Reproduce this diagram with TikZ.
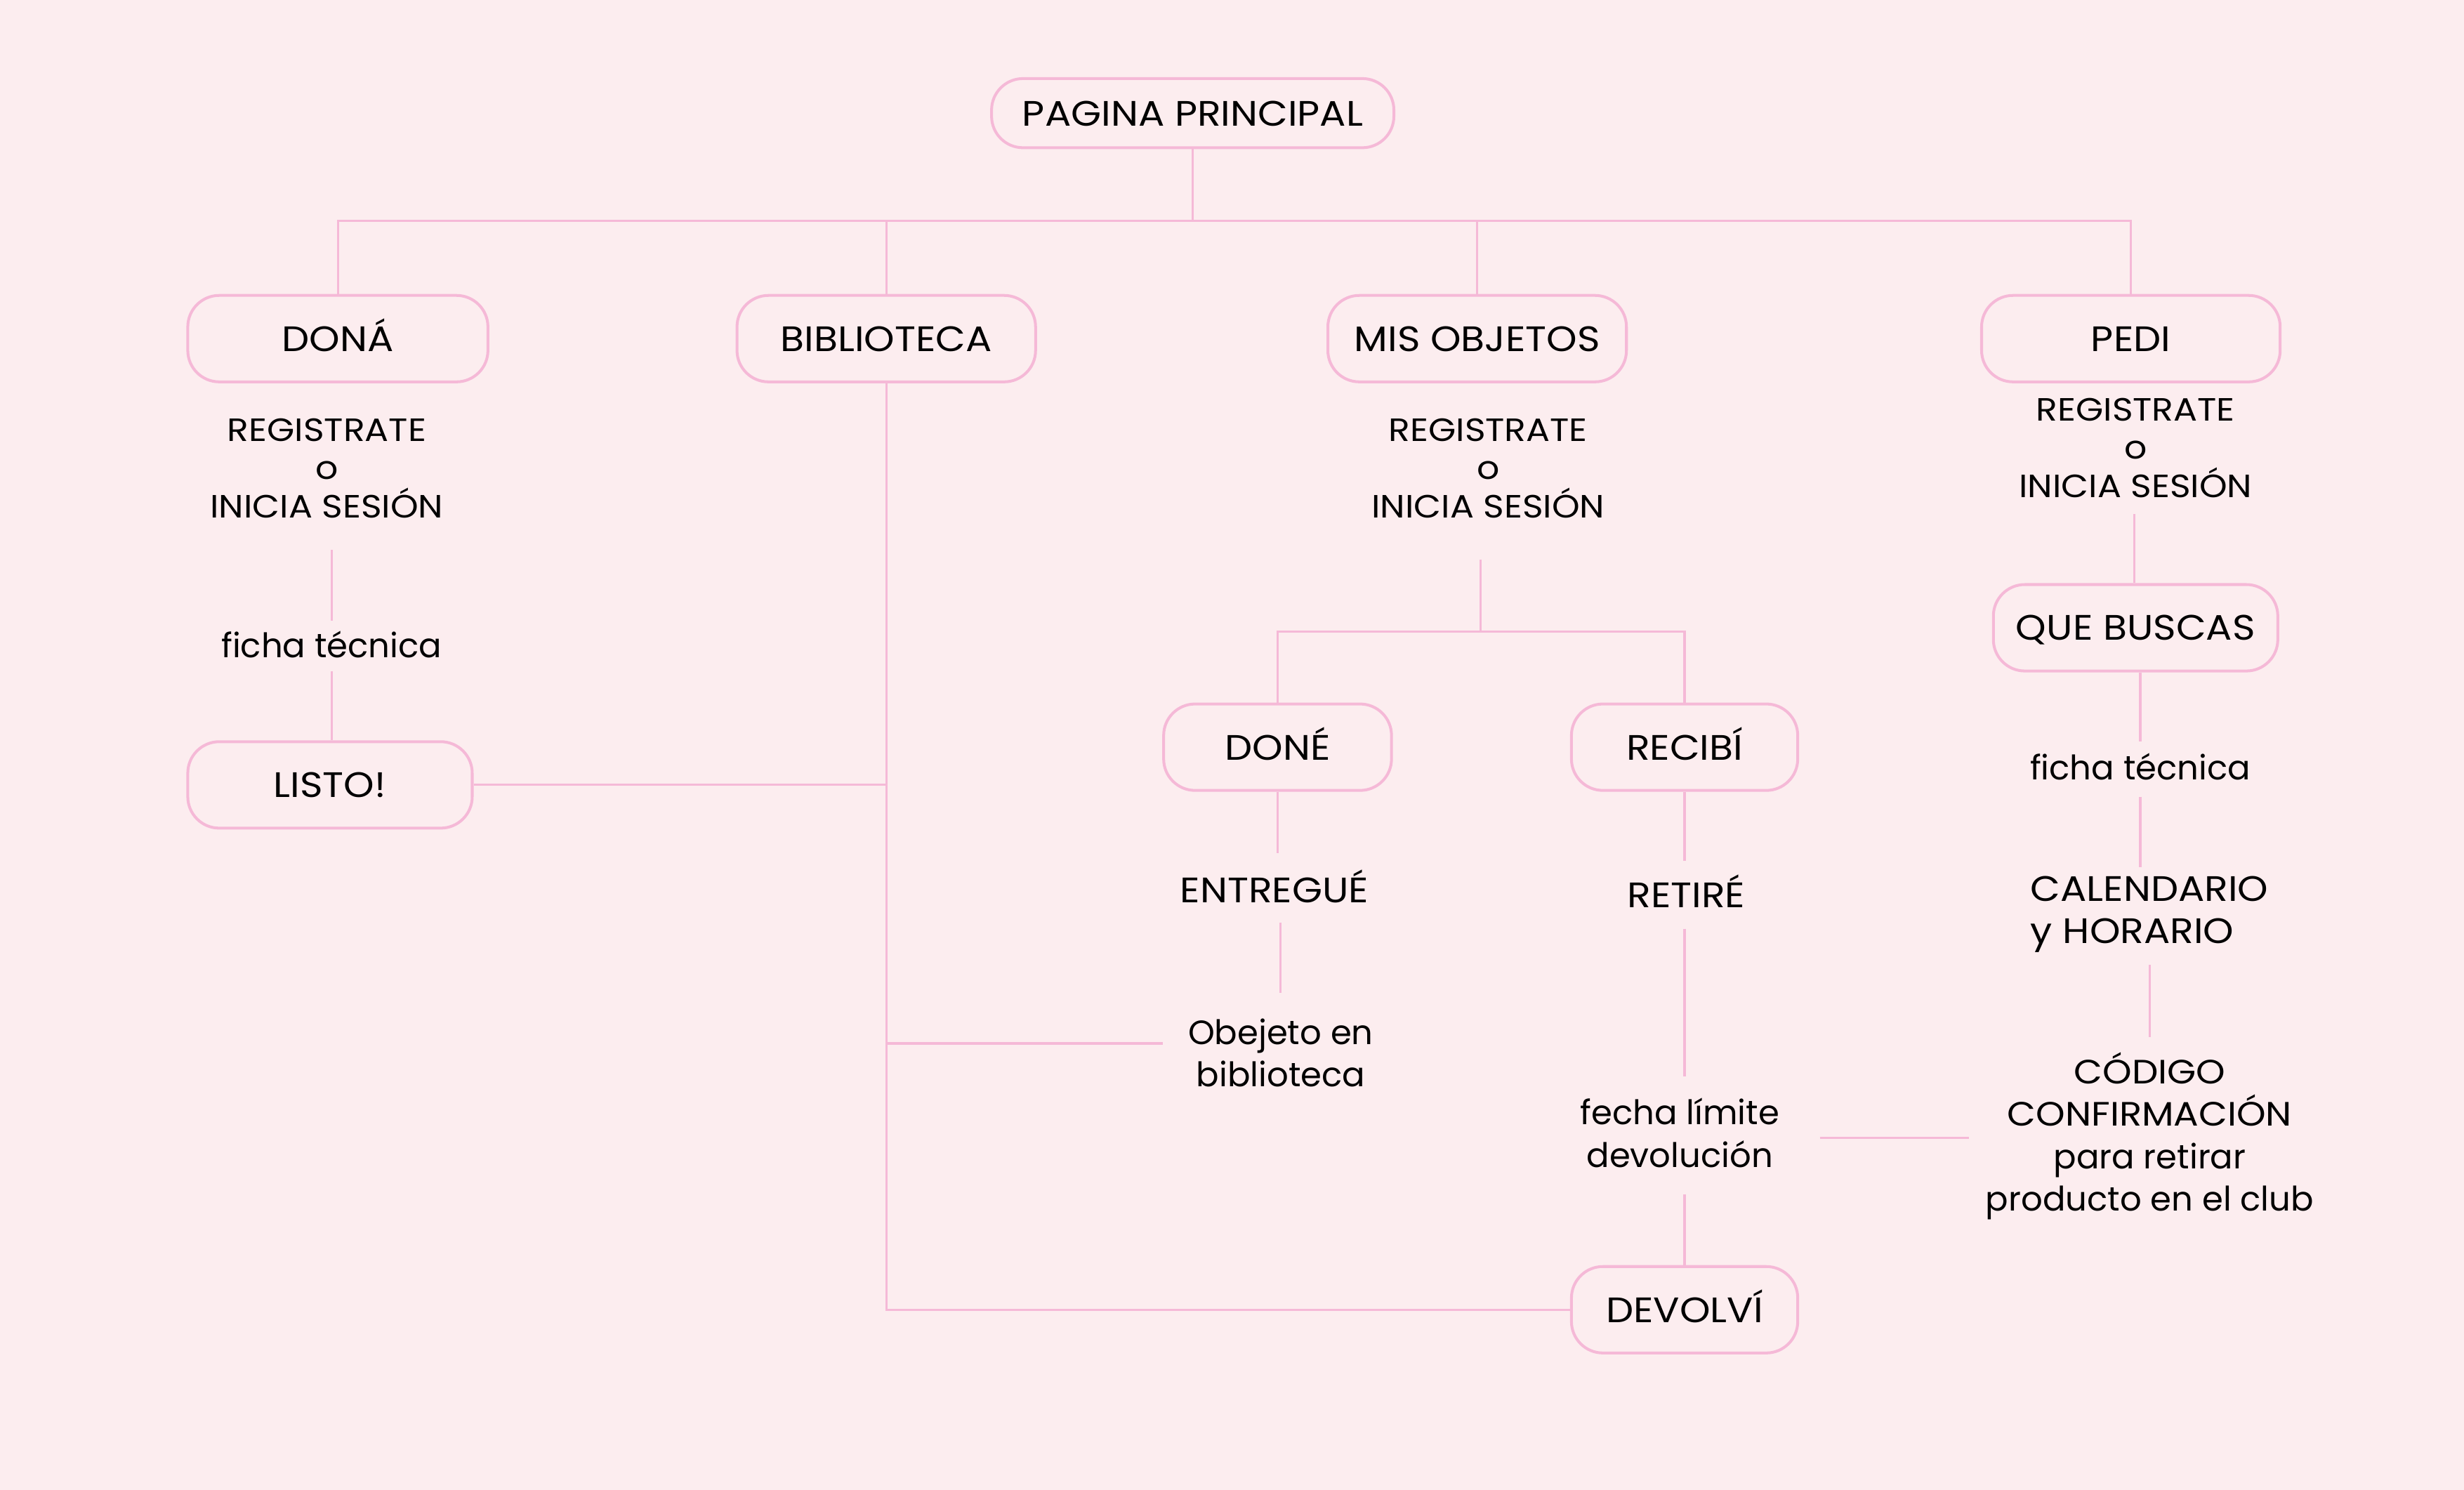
\documentclass[tikz,border=0pt]{standalone}
\usepackage{fontspec}
\setmainfont{Poppins}
\newfontfamily\widefont[FakeStretch=1.1]{Poppins}
\definecolor{bgpink}{HTML}{FCEDEF}
\definecolor{linepink}{HTML}{F5B9D7}
\begin{document}
\begin{tikzpicture}[x=1pt,y=-1pt,
  conn/.style={draw=linepink,line width=1.4pt},
  boxnode/.style={draw=linepink,line width=1.8pt,rounded corners=20pt,minimum height=55pt,inner sep=0pt,text height=16pt,text depth=0pt,font=\widefont\fontsize{22.5}{26}\selectfont,text=black},
  txt/.style={inner sep=0pt,align=center,font=\fontsize{21.5}{27}\selectfont,text=black},
  captxt/.style={inner sep=0pt,align=center,font=\widefont\fontsize{22.5}{27}\selectfont,text=black},
  regtxt/.style={inner sep=0pt,align=center,font=\widefont\fontsize{20.5}{24.5}\selectfont,text=black}]
\fill[bgpink] (0,0) rectangle (1568,948);
\useasboundingbox (0,0) rectangle (1568,948);

% boxes
\node[boxnode,minimum width=256pt,minimum height=44pt] (pp) at (759,72) {PAGINA PRINCIPAL};
\node[boxnode,minimum width=191pt] (dona) at (215,215.5) {DONÁ};
\node[boxnode,minimum width=190pt] (bib) at (564,215.5) {BIBLIOTECA};
\node[boxnode,minimum width=190pt] (mis) at (940,215.5) {MIS OBJETOS};
\node[boxnode,minimum width=190pt] (pedi) at (1356,215.5) {PEDI};
\node[boxnode,minimum width=181pt] (listo) at (210,499.5) {LISTO!};
\node[boxnode,minimum width=181pt] (que) at (1359,399.5) {QUE BUSCAS};
\node[boxnode,minimum width=145pt] (done) at (813,475.5) {DONÉ};
\node[boxnode,minimum width=144pt] (recibi) at (1072,475.5) {RECIBÍ};
\node[boxnode,minimum width=144pt] (devolvi) at (1072,833.5) {DEVOLVÍ};

% texts
\node[regtxt] (regA) at (208,298) {REGISTRATE\\o\\INICIA SESIÓN};
\node[txt] (fichaA) at (211,410) {ficha técnica};
\node[regtxt] (regM) at (947,298) {REGISTRATE\\o\\INICIA SESIÓN};
\node[captxt] (entregue) at (811,564) {ENTREGUÉ};
\node[txt] (obj) at (815,670) {Obejeto en\\biblioteca};
\node[captxt] (retire) at (1073,567) {RETIRÉ};
\node[txt] (fecha) at (1069,721) {fecha límite\\devolución};
\node[regtxt] (regP) at (1359,285) {REGISTRATE\\o\\INICIA SESIÓN};
\node[txt] (fichaP) at (1362,488) {ficha técnica};
\node[captxt,align=left,anchor=west] (cal) at (1292,582) {CALENDARIO\\y HORARIO};
\node[txt] (codigo) at (1368,723) {{\widefont CÓDIGO}\\{\widefont CONFIRMACIÓN}\\para retirar\\producto en el club};

% line ends
\coordinate (bus) at (759,140.5);
\coordinate (aA1) at (211,350); \coordinate (aA2) at (211,395); \coordinate (aA3) at (211,427);
\coordinate (oE) at (740,664);
\coordinate (mA) at (942,356); \coordinate (mB) at (942,402);
\coordinate (e1) at (813,543); \coordinate (e2) at (815,587); \coordinate (e3) at (815,632);
\coordinate (r1) at (1072,548); \coordinate (r2) at (1072,591); \coordinate (r3) at (1072,685); \coordinate (r4) at (1072,760);
\coordinate (h1) at (1158,724); \coordinate (h2) at (1253,724);
\coordinate (p1) at (1358,327);
\coordinate (q1) at (1362,472); \coordinate (q2) at (1362,507); \coordinate (q3) at (1362,552);
\coordinate (c1) at (1368,614); \coordinate (c2) at (1368,660);

% connectors
\draw[conn] (pp.south) -- (bus);
\draw[conn] (dona.north) |- (bus) -| (pedi.north);
\draw[conn] (bib.north) -- (bib.north |- bus);
\draw[conn] (mis.north) -- (mis.north |- bus);
\draw[conn] (aA1) -- (aA2);
\draw[conn] (aA3) -- (aA3 |- listo.north);
\draw[conn] (listo.east) -- (listo.east -| bib.south);
\draw[conn] (bib.south) |- (devolvi.west);
\draw[conn] (bib.south |- oE) -- (oE);
\draw[conn] (mA) -- (mB);
\draw[conn] (done.north) |- (mB) -| (recibi.north);
\draw[conn] (done.south) -- (e1);
\draw[conn] (e2) -- (e3);
\draw[conn] (recibi.south) -- (r1);
\draw[conn] (r2) -- (r3);
\draw[conn] (r4) -- (devolvi.north);
\draw[conn] (h1) -- (h2);
\draw[conn] (p1) -- (p1 |- que.north);
\draw[conn] (q1 |- que.south) -- (q1);
\draw[conn] (q2) -- (q3);
\draw[conn] (c1) -- (c2);
\end{tikzpicture}
\end{document}
